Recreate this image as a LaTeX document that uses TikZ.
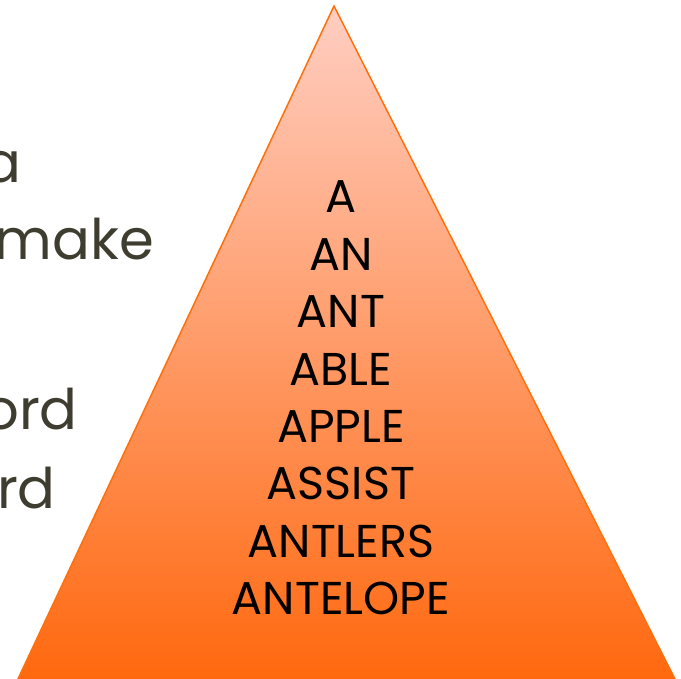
\documentclass[tikz,border=0pt]{standalone}
\usepackage{fontspec}
\setmainfont{Poppins}
\definecolor{pyrline}{RGB}{255,112,10}
\definecolor{pyrtop}{RGB}{255,206,194}
\definecolor{pyrmid}{RGB}{255,150,105}
\definecolor{pyrbot}{RGB}{255,104,14}
\definecolor{slidetext}{RGB}{62,61,47}
\tikzset{
  word/.style={font=\fontsize{46}{46}\selectfont, text=black, inner sep=0pt},
  side/.style={font=\fontsize{56}{56}\selectfont, text=slidetext, inner sep=0pt}
}
\begin{document}
\begin{tikzpicture}[x=1pt, y=-1pt]
\useasboundingbox (0,0) rectangle (681,679);
\clip (0,0) rectangle (681,679);
% the pyramid
\coordinate (apex) at (334,6);
\coordinate (bl) at (17,681);
\coordinate (br) at (676,681);
\shade[top color=pyrtop, middle color=pyrmid, bottom color=pyrbot,
  draw=pyrline, line width=1.5pt] (apex)--(br)--(bl)--cycle;
% words inside
\foreach \w [count=\i] in {A,AN,ANT,ABLE,APPLE,ASSIST,ANTLERS,ANTELOPE}
  \node[word, anchor=base] (w\i) at (341,{213+57.4*(\i-1)}) {\w};
% text on the left, cut by the page
\node[side, anchor=base east] (l1) at (22,183) {a};
\node[side, anchor=base east] (l2) at (154,260) {make};
\node[side, anchor=base east] (l3) at (78,430) {ord};
\node[side, anchor=base east] (l4) at (56,508) {rd};
\end{tikzpicture}
\end{document}
